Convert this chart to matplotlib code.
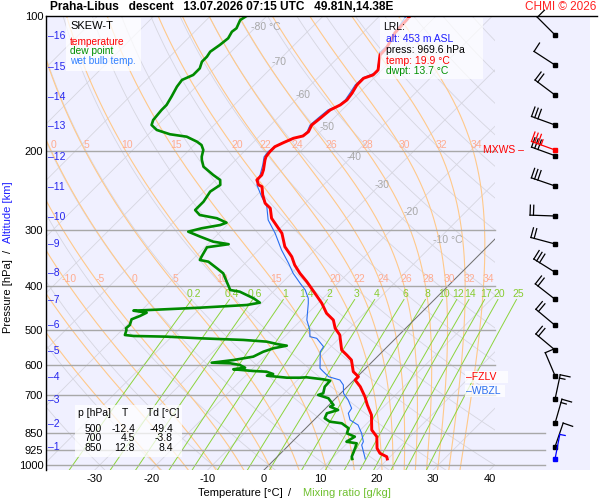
import numpy as np
import matplotlib
matplotlib.use("Agg")
import matplotlib.pyplot as plt
from matplotlib.patches import Rectangle
from matplotlib.ticker import NullLocator, NullFormatter

plt.rcParams['font.family'] = ['Liberation Sans', 'DejaVu Sans']

# --- sounding (pressure hPa, temperature degC) ---
temp_p = [100.0, 102.1, 109.1, 117.8, 122.2, 131.9, 135.3, 137.6, 142.4, 148.6,
          153.8, 157.8, 161.9, 169.0, 174.9, 181.0, 185.0, 187.2, 191.5, 195.5,
          200.5, 205.7, 209.2, 220.2, 226.0, 231.8, 237.8, 239.9, 250.3, 261.2,
          268.0, 282.1, 297.0, 304.7, 326.4, 343.6, 358.6, 374.2, 390.6, 404.1,
          425.3, 436.4, 459.3, 475.4, 496.1, 513.4, 554.6, 569.0, 583.7, 619.7,
          635.8, 646.7, 669.3, 704.5, 735.2, 773.8, 835.5, 865.0, 918.0, 941.8,
          958.3, 969.6]
temp_t = [-54.6, -54.5, -54.3, -53.1, -53.0, -50.7, -50.7, -51.8, -51.8, -51.2,
          -50.9, -51.2, -52.1, -52.4, -52.7, -52.1, -52.3, -53.6, -54.6, -55.4,
          -55.4, -55.2, -54.8, -53.3, -52.7, -52.7, -51.5, -50.6, -49.0, -47.1,
          -45.3, -43.3, -40.3, -38.8, -35.9, -32.9, -30.9, -28.5, -25.8, -23.8,
          -20.8, -19.3, -16.7, -14.3, -12.5, -10.5, -7.5, -5.7, -4.0, -1.6,
          0.2, 0.2, 2.3, 4.9, 6.8, 9.3, 12.0, 14.1, 16.2, 17.6,
          19.4, 19.9]

dwpt_p = [100.0, 102.1, 106.5, 108.4, 112.1, 116.0, 120.1, 123.2, 126.4, 130.8,
          135.3, 138.8, 143.7, 151.2, 157.8, 161.9, 170.5, 174.9, 179.4, 183.4,
          185.7, 190.5, 193.8, 198.8, 205.7, 209.2, 216.6, 226.0, 231.8, 237.8,
          246.1, 259.1, 270.5, 277.5, 282.1, 288.6, 292.1, 297.0, 302.2, 310.0,
          318.1, 322.3, 327.4, 343.6, 349.5, 352.5, 364.7, 374.2, 390.6, 407.6,
          411.2, 418.2, 425.3, 435.0, 440.2, 446.3, 451.6, 453.2, 457.9, 465.7,
          473.7, 487.7, 496.1, 500.4, 513.4, 516.0, 517.8, 522.2, 526.6, 531.2,
          538.4, 542.3, 549.6, 559.4, 573.7, 583.7, 591.8, 593.6, 598.8, 607.1,
          612.1, 617.5, 619.7, 627.1, 632.6, 639.1, 639.1, 637.8, 644.4, 649.0,
          669.3, 692.3, 698.3, 710.2, 735.2, 741.6, 754.3, 767.1, 787.0, 800.8,
          807.4, 828.3, 850.0, 865.0, 887.4, 894.8, 918.0, 958.3, 969.6]
dwpt_t = [-83.6, -84.0, -83.2, -83.4, -82.9, -83.2, -83.7, -83.4, -83.4, -82.6,
          -82.6, -83.7, -83.4, -82.6, -82.0, -82.0, -81.7, -81.1, -79.3, -76.2,
          -72.8, -70.1, -68.7, -67.5, -66.6, -66.0, -64.5, -61.3, -59.2, -58.3,
          -58.9, -58.3, -58.3, -56.6, -53.0, -50.5, -51.2, -53.9, -55.7, -52.7,
          -49.5, -46.3, -49.6, -48.9, -48.6, -46.8, -44.1, -42.1, -40.0, -37.9,
          -35.9, -34.1, -32.3, -30.4, -32.3, -40.1, -48.6, -51.4, -48.7, -49.3,
          -50.2, -49.5, -49.6, -49.2, -48.6, -46.9, -40.9, -34.7, -26.7, -22.3,
          -19.8, -18.0, -19.9, -21.1, -22.0, -24.9, -28.3, -24.9, -22.9, -21.5,
          -23.3, -19.5, -17.0, -15.4, -16.2, -12.3, -10.0, -8.9, -5.6, -4.1,
          -4.0, -3.1, -3.7, -1.3, 0.8, 0.5, 2.5, 1.1, 1.6, 3.1,
          5.5, 7.6, 8.2, 10.2, 9.6, 11.7, 12.3, 13.2, 13.7]

wbulb_p = [100.0, 106.4, 116.0, 120.3, 126.6, 133.3, 137.4, 142.4, 148.4, 153.8,
           158.6, 161.9, 168.7, 174.9, 181.3, 185.0, 187.9, 191.8, 195.8, 200.8,
           206.0, 214.7, 226.0, 237.8, 252.5, 265.8, 284.6, 304.7, 332.0, 355.4,
           374.2, 393.8, 407.6, 425.3, 436.4, 475.4, 500.4, 517.8, 522.2, 545.2,
           559.4, 609.0, 619.7, 635.8, 646.7, 663.5, 692.3, 716.4, 747.7, 767.1,
           794.0, 814.6, 850.0, 887.4, 902.7, 958.3, 969.6]
wbulb_t = [-55.3, -54.6, -53.4, -53.5, -52.0, -50.5, -52.0, -52.1, -51.6, -51.2,
           -51.4, -52.5, -52.8, -53.0, -52.3, -52.5, -53.7, -54.8, -55.5, -55.7,
           -55.5, -54.3, -53.0, -51.8, -48.9, -46.2, -43.6, -40.0, -35.9, -32.3,
           -29.7, -26.7, -24.6, -22.6, -21.7, -19.0, -16.7, -15.5, -14.0, -11.3,
           -11.0, -8.1, -6.9, -5.1, -2.5, -1.0, 0.5, 2.5, 4.6, 4.9,
           6.4, 8.7, 10.8, 12.6, 12.9, 15.5, 16.0]

# wind: pressure, direction (deg), speed (kt)
wind_p = [110.2, 128.6, 150.0, 174.9, 204.7, 239.1, 278.9, 321.9, 372.2, 427.5,
          488.6, 554.6, 632.6, 713.8, 807.4, 910.5, 969.6]
wind_dir = [315, 303, 307, 290, 290, 289, 272, 285, 302, 308,
            310, 310, 337, 12, 16, 19, 11]
wind_spd = [10, 10, 20, 30, 30, 30, 20, 20, 30, 20,
            20, 20, 10, 15, 15, 10, 5]
mxws_p, mxws_dir, mxws_spd = 198.8, 290, 35

fzlv_p = 636.0
wbzl_p = 684.0

alt_km = list(range(1, 17))
alt_p = [912, 810, 716, 637, 557, 488, 429, 374, 322, 280, 240, 206, 176, 151.5, 130, 111]

tab_p = [500, 700, 850]
tab_t = [-12.4, 4.5, 12.8]
tab_td = [-49.4, -3.8, 8.4]

lrl_alt, lrl_p, lrl_t, lrl_td = 453, 969.6, 19.9, 13.7

p_ticks = [100, 200, 300, 400, 500, 600, 700, 850, 925, 1000]
t_ticks = [-30, -20, -10, 0, 10, 20, 30, 40]
mix_ratios = [0.2, 0.4, 0.6, 1, 1.4, 2, 3, 4, 6, 8, 10, 12, 14, 17, 20, 25]
thw_values = [-20, -15, -10, -5, 0, 5, 10, 15, 20, 22, 24, 26, 28, 30, 32, 34]
thw_top = [0, 5, 10, 15, 20, 22, 24, 26, 28, 30, 32, 34]
iso_lab_t = [-80, -70, -60, -50, -40, -30, -20, -10]
iso_lab_p = [105.8, 126.6, 150.0, 176.7, 206.0, 237.8, 273.3, 315.4]

K = 79.61
P_BOT = 1026.0


def skew_x(t, p):
    return np.asarray(t, float) + K * np.log10(P_BOT / np.asarray(p, float))


def moist_curve(thw, p_up, p_down):
    def rate(T, p):
        tc = T - 273.15
        es = 6.112 * np.exp(17.67 * tc / (tc + 243.5))
        rs = 0.622 * es / (p - es)
        return (287.04 * T + 2.501e6 * rs) / (1005.7 + 2.501e6 ** 2 * rs * 0.622 / (287.04 * T * T))

    def run(plev):
        out = [thw + 273.15]
        for p0, p1 in zip(plev[:-1], plev[1:]):
            h = np.log(p1) - np.log(p0)
            T = out[-1]
            k1 = rate(T, p0)
            pm = np.exp(np.log(p0) + h / 2)
            k2 = rate(T + h * k1 / 2, pm)
            k3 = rate(T + h * k2 / 2, pm)
            k4 = rate(T + h * k3, p1)
            out.append(T + h * (k1 + 2 * k2 + 2 * k3 + k4) / 6)
        return np.array(out) - 273.15
    up = run(p_up)
    down = run(p_down)
    return np.concatenate([down[::-1], up[1:]]), np.concatenate([p_down[::-1], p_up[1:]])


fig = plt.figure(figsize=(6, 5), dpi=100)
ax = fig.add_axes([46 / 600, 30 / 500, 544 / 600, 454 / 500])
ax.set_yscale('log')
ax.set_ylim(P_BOT, 100)
ax.set_xlim(-38.65, 57.80)
ax.set_facecolor('#f0f0ff')
for s in ['right', 'bottom', 'top']:
    ax.spines[s].set_visible(False)
ax.spines['left'].set_linewidth(1.0)

ax.set_yticks(p_ticks)
ax.set_yticklabels([str(p) for p in p_ticks])
ax.yaxis.set_minor_locator(NullLocator())
ax.yaxis.set_minor_formatter(NullFormatter())
ax.set_xticks(t_ticks)
ax.set_xticklabels([str(t) for t in t_ticks])
ax.tick_params(axis='y', length=0, pad=2, labelsize=8)
ax.tick_params(axis='x', length=0, pad=3, labelsize=8)

clip = Rectangle((0, 0), 449 / 544, 1, transform=ax.transAxes)

p_line = np.array([P_BOT, 100.0])
p_grid = np.geomspace(P_BOT, 100, 120)

# isotherms
for t in range(-160, 60, 10):
    ln, = ax.plot(skew_x(t, p_line), p_line, color='#d6d6e0', lw=0.6, zorder=1)
    ln.set_clip_path(clip)
ln, = ax.plot(skew_x(0, p_line), p_line, color='#707070', lw=0.7, zorder=2)
ln.set_clip_path(clip)

# dry adiabats
for th in range(-40, 240, 10):
    tt = (th + 273.15) * (p_grid / 1000.0) ** 0.2857 - 273.15
    ln, = ax.plot(skew_x(tt, p_grid), p_grid, color='#d6d6e0', lw=0.6, zorder=1)
    ln.set_clip_path(clip)

# moist adiabats
p_up = np.geomspace(1000, 100, 300)
p_dn = np.geomspace(1000, P_BOT, 5)
for thw in thw_values:
    tt, pp = moist_curve(thw, p_up, p_dn)
    xx = skew_x(tt, pp)
    ln, = ax.plot(xx, pp, color='#ffc98a', lw=0.8, zorder=1)
    ln.set_clip_path(clip)
    lx = np.log(pp[::-1])
    for plab, show in [(194.0, thw in thw_top), (385.0, thw >= -10)]:
        if show:
            xl = np.interp(np.log(plab), lx, xx[::-1])
            ax.text(xl + 0.8, plab, str(thw), color='#ffac90', fontsize=7.5,
                    ha='center', va='center', zorder=3)

# mixing ratio lines
p_mr = np.geomspace(P_BOT, 428, 30)
for w in mix_ratios:
    e = w * p_mr / (622 + w)
    a = np.log(e / 6.112)
    td = 243.5 * a / (17.67 - a)
    ax.plot(skew_x(td, p_mr), p_mr, color='#8cd43c', lw=0.7, zorder=1)
    e0 = w * 416.0 / (622 + w)
    a0 = np.log(e0 / 6.112)
    ax.text(skew_x(243.5 * a0 / (17.67 - a0), 416.0) - 0.3, 416.0, f'{w:g}', color='#88cc30',
            fontsize=7.5, ha='center', va='center', zorder=3)

# isobars
for p in [200, 300, 400, 500, 600, 700]:
    ax.axhline(p, xmax=449 / 544, color='#a8a8a8', lw=1.0, zorder=2)
for p in [850, 925, 1000]:
    ax.axhline(p, xmax=499 / 544, color='#a8a8a8', lw=1.0, zorder=2)

# isotherm labels
for t, p in zip(iso_lab_t, iso_lab_p):
    if t in (-80, -10):
        ax.text(skew_x(t, p) - 0.8, p, f'{t} °C', color='#a8a8a8', fontsize=7.5,
                ha='left', va='center', zorder=3)
    else:
        ax.text(skew_x(t, p) + 0.4, p, str(t), color='#a8a8a8', fontsize=7.5,
                ha='center', va='center', zorder=3)

# profiles
ax.plot(skew_x(wbulb_t, wbulb_p), wbulb_p, color='#2a6ef0', lw=0.8, zorder=4)
ax.plot(skew_x(temp_t, temp_p), temp_p, color='#ff0000', lw=2.1, zorder=5,
        solid_joinstyle='round')
ax.plot(skew_x(dwpt_t, dwpt_p), dwpt_p, color='#008a00', lw=1.9, zorder=5,
        solid_joinstyle='round')

# altitude ticks
yax = ax.get_yaxis_transform()
for k, p in zip(alt_km, alt_p):
    ax.text(0.003, p, f'\u2013{k}', transform=yax, color='#2626ee', fontsize=7.5,
            ha='left', va='center', zorder=6)

# ---------- overlay in pixel coordinates ----------
ov = fig.add_axes([0, 0, 1, 1], zorder=10)
ov.set_xlim(0, 600)
ov.set_ylim(500, 0)
ov.axis('off')
ov.patch.set_alpha(0)

# top frame line runs past the plot area
ov.plot([46, 597], [16, 16], color='black', lw=1.0)


def px(xv, p):
    d = ax.transData.transform((xv, p))
    return d[0], 500 - d[1]


def barb(p, ddeg, spd, color):
    bx, by = px(51.6, p)
    r = np.radians(ddeg)
    ux, uy = np.sin(r), -np.cos(r)
    nx, ny = -uy, ux
    L = 25.0
    ov.plot([bx, bx + L * ux], [by, by + L * uy], color=color, lw=0.9)
    ov.plot(bx, by, 's', color=color, ms=3.0)
    pos = L
    for i in range(spd // 10):
        sx, sy = bx + pos * ux, by + pos * uy
        ov.plot([sx, sx + 10 * nx], [sy, sy + 10 * ny], color=color, lw=0.9)
        pos -= 3.4
    if spd % 10 >= 5:
        sx, sy = bx + pos * ux, by + pos * uy
        ov.plot([sx, sx + 5.5 * nx], [sy, sy + 5.5 * ny], color=color, lw=0.9)


for p, d, s in zip(wind_p[:-1], wind_dir[:-1], wind_spd[:-1]):
    barb(p, d, s, 'black')
barb(mxws_p, mxws_dir, mxws_spd, '#ff0000')
barb(wind_p[-1], wind_dir[-1], wind_spd[-1], '#0000ff')

# title
ov.text(50, 7, 'Praha-Libus   descent   13.07.2026 07:15 UTC   49.81N,14.38E',
        fontsize=8.6, fontweight='bold', ha='left', va='center')
ov.text(596, 7, 'CHMI © 2026', fontsize=8.5, color='#ff2020', ha='right', va='center')

# axis titles
ov.text(8, 296, 'Pressure [hPa]', rotation=90, fontsize=8, ha='center', va='center')
ov.text(8, 251, '/', rotation=90, fontsize=8, ha='center', va='center')
ov.text(8, 212, 'Altitude [km]', rotation=90, fontsize=8, color='#2020ff',
        ha='center', va='center')
ov.text(198, 493, 'Temperature [°C]', fontsize=8, ha='left', va='center')
ov.text(288, 493, '/', fontsize=8, ha='left', va='center')
ov.text(303, 493, 'Mixing ratio [g/kg]', fontsize=8, color='#70c030', ha='left', va='center')

# legend box
ov.add_patch(Rectangle((66, 18), 75, 53, facecolor='white', alpha=0.75, edgecolor='none'))
ov.text(70, 26, 'SKEW-T', fontsize=8, ha='left', va='center')
ov.text(70, 42, 'temperature', fontsize=7.3, color='#ff0000', ha='left', va='center')
ov.text(70, 51, 'dew point', fontsize=7.3, color='#009000', ha='left', va='center')
ov.text(70, 61, 'wet bulb temp.', fontsize=7.3, color='#3080ff', ha='left', va='center')

# LRL box
ov.add_patch(Rectangle((380, 18), 103, 61, facecolor='white', alpha=0.7, edgecolor='none'))
ov.text(383, 27, 'LRL:', fontsize=7.5, ha='left', va='center')
ov.text(386, 39, f'alt: {lrl_alt} m ASL', fontsize=7.5, color='#2020ff', ha='left', va='center')
ov.text(386, 50, f'press: {lrl_p:.1f} hPa', fontsize=7.5, ha='left', va='center')
ov.text(386, 61, f'temp: {lrl_t:.1f} °C', fontsize=7.5, color='#ff0000', ha='left', va='center')
ov.text(386, 71, f'dwpt: {lrl_td:.1f} °C', fontsize=7.5, color='#009000', ha='left', va='center')

# table box
ov.add_patch(Rectangle((75, 405), 107, 52, facecolor='white', alpha=0.75, edgecolor='none'))
ov.text(78, 413, 'p [hPa]', fontsize=7.5, ha='left', va='center')
ov.text(125, 413, 'T', fontsize=7.5, ha='center', va='center')
ov.text(147, 413, 'Td [°C]', fontsize=7.5, ha='left', va='center')
for i, (p, t, td) in enumerate(zip(tab_p, tab_t, tab_td)):
    yy = 428.5 + 9.8 * i
    ov.text(102, yy, f'{p}', fontsize=7.5, ha='right', va='center')
    ov.text(135, yy, f'{t:.1f}', fontsize=7.5, ha='right', va='center')
    ov.text(173, yy, f'{td:.1f}', fontsize=7.5, ha='right', va='center')

# level markers
fx, fy = px(35.9, fzlv_p)
ov.add_patch(Rectangle((fx - 1, fy - 6), 43, 12, facecolor='white', alpha=0.75, edgecolor='none'))
ov.text(fx, fy, '\u2013FZLV', fontsize=7.5, color='#ff0000', ha='left', va='center')
wx, wy = px(35.9, wbzl_p)
ov.add_patch(Rectangle((wx - 1, wy - 6), 40, 12, facecolor='white', alpha=0.75, edgecolor='none'))
ov.text(wx, wy, '\u2013WBZL', fontsize=7.5, color='#2a6ef0', ha='left', va='center')
mx, my = px(46.0, mxws_p)
ov.text(mx, my, 'MXWS \u2013', fontsize=7.5, color='#ff0000', ha='right', va='center')

fig.savefig('out.png', dpi=100)
